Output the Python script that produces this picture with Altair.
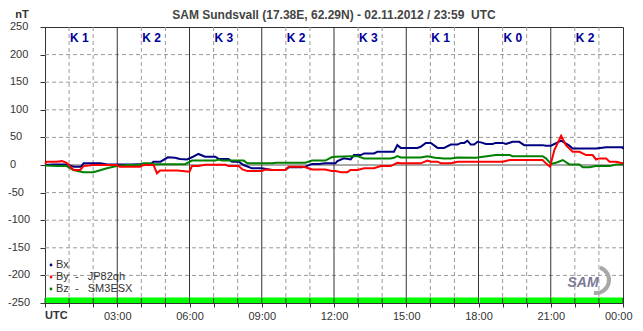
import altair as alt
import pandas as pd

# ---------------- data ----------------
bx_t = [0, 0.3, 0.9, 1.2, 1.5, 1.6, 2.3, 2.6, 3.5, 4.4, 4.5, 4.8, 5.1, 5.4, 5.6, 5.9, 6.1, 6.37, 6.65,
        7.07, 7.21, 7.62, 7.76, 8.04, 8.25, 8.59, 9.0, 9.43, 9.98, 10.12, 10.67, 10.81, 11.09, 11.37,
        11.64, 12.06, 12.14, 12.41, 12.69, 12.83, 13.11, 13.25, 13.66, 13.8, 14.49, 14.63, 14.77,
        15.46, 15.6, 15.81, 16.02, 16.3, 16.57, 16.85, 17.13, 17.27, 17.41, 17.54, 17.68, 17.82,
        17.96, 18.1, 18.31, 18.58, 18.72, 19.0, 19.14, 19.41, 19.69, 19.9, 20.66, 20.8, 21.01,
        21.43, 21.77, 21.91, 22.88, 23.3, 23.99, 24.0]
bx_v = [0, 1, 1, -3, -3, 3, 3, 1, 1, 2, 6, 6, 14, 13, 11, 10, 14, 20, 15,
        15, 11, 11, 6, 6, 0, -6, -6, -9, -9, -4, -4, -3, 2, 2,
        3, 3, 7, 12, 10, 18, 18, 21, 21, 24, 24, 36, 31,
        31, 33, 40, 40, 31, 31, 37, 37, 40, 40, 44, 37, 37,
        42, 41, 38, 38, 40, 40, 38, 42, 42, 36, 36, 35, 35,
        44, 35, 30, 30, 32, 32, 29]

by_t = [0, 0.07, 0.49, 0.7, 0.9, 1.18, 1.46, 1.6, 2.0, 2.98, 3.1, 3.95, 4.09, 4.51, 4.65, 4.78, 5.5,
        6.0, 6.1, 6.37, 6.65, 7.5, 7.62, 8.04, 8.2, 8.4, 9.01, 9.15, 9.43, 9.98, 10.12, 10.67,
        10.81, 11.09, 11.64, 11.9, 12.06, 12.3, 12.55, 12.69, 12.97, 13.25, 13.66, 13.94, 14.35,
        14.63, 14.77, 15.6, 15.88, 16.02, 16.3, 16.44, 16.85, 17.13, 18.1, 19.0, 19.3, 20.66,
        20.8, 20.97, 21.15, 21.43, 21.63, 21.91, 22.19, 22.47, 22.74, 22.88, 23.02, 23.3, 23.44,
        23.71, 23.99, 24.0]
by_v = [2, 6, 6, 7, 4, -9, -9, -2, 0, 0, -3, -3, 0, 0, -15, -10, -10,
        -12, -2, -2, 0.5, 0.5, -2, -2, -8, -11, -11, -8, -9, -9, -3, -3,
        -4, -8, -8, -11, -11, -13, -13, -9, -9, -6, -6, -2, -2,
        4, 3, 3, 8, 6, 6, 3, 3, 6, 6, 6, 9, 9,
        3, -3, 27, 53, 36, 24, 24, 18, 18, 10, 12, 12, 6,
        6, 3, 3]

bz_t = [0, 0.5, 0.9, 1.18, 1.59, 2.01, 2.57, 2.98, 3.4, 3.95, 4.09, 4.37, 4.51, 5.82, 6.1, 7.07,
        7.21, 7.35, 8.25, 8.4, 9.43, 9.6, 10.81, 11.09, 11.64, 11.9, 12.06, 12.69, 12.97, 13.25,
        14.35, 14.49, 14.63, 14.77, 15.6, 15.88, 16.2, 16.57, 16.85, 17.13, 17.89, 18.72, 19.3,
        19.41, 20.66, 20.8, 21.01, 21.22, 21.5, 21.77, 22.19, 22.33, 22.6, 22.88, 23.44, 23.71, 24.0]
bz_v = [-1, -2, -2, -9, -13, -13, -6, -2, 0, 0, 3, 3, 1.5, 1.5, 8, 8,
        10, 8, 8, 3, 3, 4, 4, 8, 8, 14, 15, 16, 16, 12,
        12, 13, 16, 13.5, 13.5, 16, 13, 12, 12, 13.5, 13, 18, 18,
        16, 16, 12, 2, 4, 9, 1, 1, -4, -4, -2, -2, 1, 1]

k_labels = ["K 1", "K 2", "K 3", "K 2", "K 3", "K 1", "K 0", "K 2"]
k_hours = [1, 4, 7, 10, 13, 16, 19, 22]

hour_ticks = list(range(0, 25))
major_hours = [3, 6, 9, 12, 15, 18, 21]
minor_hours = [h for h in range(1, 24) if h % 3 != 0]
y_ticks = list(range(-250, 251, 50))
y_grid = [-200, -150, -100, -50, 50, 100, 150, 200]

bar_start = [0, 18.04]
bar_end = [18, 24]

legend_names = ["Bx", "By\u00a0\u00a0-\u00a0\u00a0\u00a0JP82qh", "Bz\u00a0\u00a0-\u00a0\u00a0\u00a0SM3ESX"]
legend_colors = ["#000080", "#ff0000", "#008000"]

title_text = "SAM Sundsvall (17.38E, 62.29N) - 02.11.2012 / 23:59  UTC".replace(" ", "\u00a0")

FONT = "Liberation Sans"
W, H = 578, 276

xs = alt.Scale(domain=[0, 24], nice=False, zero=False)
ys = alt.Scale(domain=[-250, 250], nice=False, zero=False)

x_axis = alt.Axis(values=hour_ticks, grid=False, tickSize=4, tickColor="#333", domainColor="#333",
                  labelExpr="datum.value == 0 ? '' : (datum.value % 3 == 0 ? (datum.value == 24 ? '00:00' : ((datum.value < 10 ? '0' : '') + datum.value + ':00')) : '')",
                  labelOverlap=False, labelFlush=True, labelFlushOffset=9, labelFont=FONT, labelFontSize=11,
                  labelColor="#333", labelPadding=3, title=None)
y_axis = alt.Axis(values=y_ticks, grid=False, tickSize=5, tickColor="#333", domainColor="#333",
                  labels=False, title=None)


def xq(field="t"):
    return alt.X(f"{field}:Q", scale=xs, axis=x_axis)


def yq(field="v"):
    return alt.Y(f"{field}:Q", scale=ys, axis=y_axis)


hgrid = alt.Chart(pd.DataFrame({"v": y_grid})).mark_rule(color="#9a9a9a", strokeDash=[4, 3], strokeWidth=1).encode(y=yq())
zero_line = alt.Chart(pd.DataFrame({"v": [0]})).mark_rule(color="#555", strokeWidth=1).encode(y=yq())
vminor = alt.Chart(pd.DataFrame({"t": minor_hours})).mark_rule(color="#9a9a9a", strokeDash=[4, 3], strokeWidth=1).encode(x=xq())
vmajor = alt.Chart(pd.DataFrame({"t": major_hours})).mark_rule(color="#333", strokeWidth=1).encode(x=xq())

bar = alt.Chart(pd.DataFrame({"t": bar_start, "t2": bar_end, "v": [-250, -250], "v2": [-240, -240]})).mark_rect(
    color="#00ff00").encode(x=xq(), x2="t2:Q", y=yq(), y2="v2:Q")
bar_ticks = alt.Chart(pd.DataFrame({"t": hour_ticks, "v": [-250] * 25, "v2": [-241] * 25})).mark_rule(
    color="#333", strokeWidth=1).encode(x=xq(), y=yq(), y2="v2:Q")


def series(t, v, color):
    return alt.Chart(pd.DataFrame({"t": t, "v": v})).mark_line(color=color, strokeWidth=2,
                                                               interpolate="linear").encode(x=xq(), y=yq())


bx_line = series(bx_t, bx_v, "#000080")
bz_line = series(bz_t, bz_v, "#008000")
by_line = series(by_t, by_v, "#ff0000")

k_text = alt.Chart(pd.DataFrame({"t": k_hours, "k": k_labels})).mark_text(
    align="left", baseline="middle", dx=1, font=FONT, fontSize=12, fontWeight="bold", color="#000099"
).encode(x=xq(), y=alt.value(11), text="k:N")

ypos = [v for v in y_ticks if v >= 0]
yneg = [v for v in y_ticks if v < 0]
ylab_pos = alt.Chart(pd.DataFrame({"v": ypos, "s": [str(v) for v in ypos]})).mark_text(
    align="left", baseline="middle", font=FONT, fontSize=11, color="#333").encode(
    x=alt.value(-35), y=yq(), text="s:N")
ylab_neg = alt.Chart(pd.DataFrame({"v": yneg, "s": [str(v) for v in yneg]})).mark_text(
    align="left", baseline="middle", font=FONT, fontSize=11, color="#333").encode(
    x=alt.value(-37), y=yq(), text="s:N")

utc_text = alt.Chart(pd.DataFrame({"s": ["UTC"]})).mark_text(
    align="left", baseline="middle", font=FONT, fontSize=11, fontWeight="bold", color="#333").encode(
    x=alt.value(0), y=alt.value(H + 13), text="s:N")

title = alt.Chart(pd.DataFrame({"s": [title_text]})).mark_text(
    align="center", baseline="middle", font=FONT, fontSize=12, fontWeight="bold", color="#444").encode(
    x=alt.value(W / 2), y=alt.value(-12), text="s:N")
nt_text = alt.Chart(pd.DataFrame({"s": ["nT"]})).mark_text(
    align="center", baseline="middle", font=FONT, fontSize=11, fontWeight="bold", color="#333").encode(
    x=alt.value(-23), y=alt.value(-12), text="s:N")

leg_df = pd.DataFrame({"s": legend_names, "c": legend_colors, "py": [238, 250, 262]})
leg_dots = alt.Chart(leg_df).mark_point(filled=True, size=8, opacity=1).encode(
    x=alt.value(6), y=alt.Y("py:Q", scale=None),
    color=alt.Color("c:N", scale=None))
leg_text = alt.Chart(leg_df).mark_text(align="left", baseline="middle", font=FONT, fontSize=11, color="#333").encode(
    x=alt.value(11), y=alt.Y("py:Q", scale=None), text="s:N")

logo_arc = alt.Chart(pd.DataFrame({"s": ["logo"]})).mark_arc(
    radius=15, radius2=11, theta=0.3, theta2=3.3, color="#a8a8a8").encode(
    x=alt.value(551), y=alt.value(253))
logo_text = alt.Chart(pd.DataFrame({"s": ["SAM"]})).mark_text(
    align="center", baseline="middle", font=FONT, fontSize=14, fontStyle="italic", fontWeight="bold",
    color="#7a7a96").encode(x=alt.value(538), y=alt.value(256), text="s:N")

chart = alt.layer(
    hgrid, vminor, vmajor, zero_line, bar, bar_ticks,
    bx_line, bz_line, by_line, k_text, ylab_pos, ylab_neg, utc_text, title, nt_text,
    leg_dots, leg_text, logo_arc, logo_text
).properties(
    width=W, height=H,
    padding={"left": 37, "top": 19, "right": 12, "bottom": 20},
    autosize=alt.AutoSizeParams(type="none"),
    background="white"
).configure_view(stroke="#333", strokeWidth=1)

chart.save("out.html", embed_options={"renderer": "svg", "actions": False})
